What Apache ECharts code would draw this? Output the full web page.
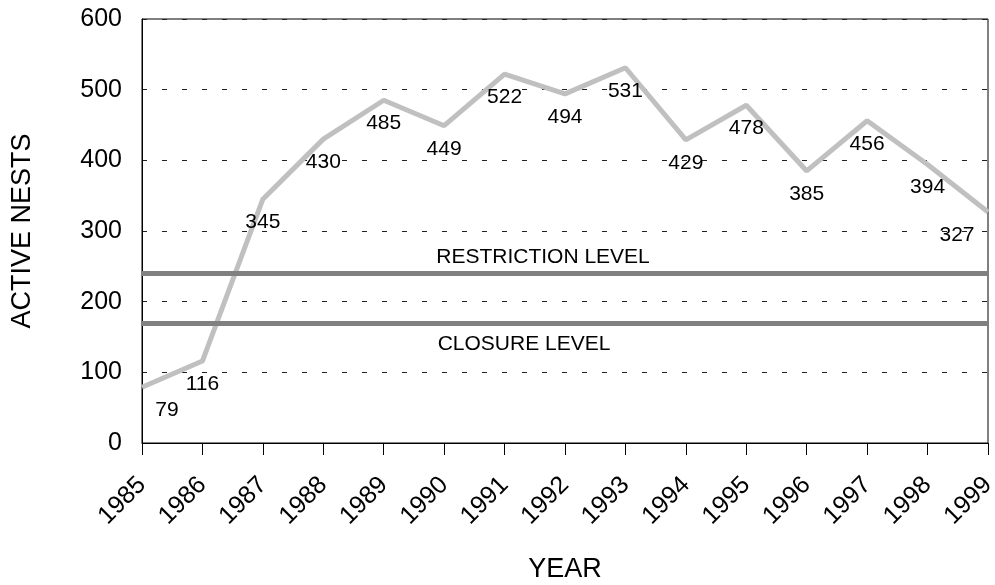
<!DOCTYPE html>
<html><head><meta charset="utf-8">
<script src="https://cdn.jsdelivr.net/npm/echarts@6/dist/echarts.min.js"></script>
<style>html,body{margin:0;padding:0;background:#fff}#c{width:995px;height:585px}</style>
</head><body><div id="c"></div>
<script>
const years = ['1985','1986','1987','1988','1989','1990','1991','1992','1993','1994','1995','1996','1997','1998','1999'];
const nests = [79,116,345,430,485,449,522,494,531,429,478,385,456,394,327];
const labelOffsets = [[25,0],[0,0],[0,0],[0,0],[0,0],[0,0],[0,0],[0,0],[0,0],[0,0],[0,0],[0,0],[0,0],[0,0],[-31,0]];
const restrictionLevel = 240;
const closureLevel = 170;
const yTicks = [0,100,200,300,400,500,600];
const FONT = 'Liberation Sans, Arial, Helvetica, sans-serif';

const chart = echarts.init(document.getElementById('c'), null, {renderer:'canvas'});
chart.setOption({
  animation:false,
  backgroundColor:'#fff',
  grid:{left:142,right:7,top:19,bottom:142,show:true,borderColor:'#000',borderWidth:1,containLabel:false,outerBoundsMode:'none'},
  xAxis:{
    type:'category', data:years, boundaryGap:false,
    name:'YEAR', nameLocation:'middle', nameGap:113,
    nameTextStyle:{fontFamily:FONT,fontSize:27,color:'#000'},
    axisLine:{lineStyle:{color:'#000',width:1}},
    axisTick:{show:true,length:12,alignWithLabel:true,lineStyle:{color:'#000'}},
    axisLabel:{rotate:45,fontFamily:FONT,fontSize:25,color:'#000',margin:38,interval:0},
    splitLine:{show:false}
  },
  yAxis:{
    type:'value', min:0, max:600, interval:100,
    name:'ACTIVE NESTS', nameLocation:'middle', nameGap:106, nameRotate:90,
    nameTextStyle:{fontFamily:FONT,fontSize:27,color:'#000'},
    axisLine:{show:true,lineStyle:{color:'#000',width:1}},
    axisTick:{show:false},
    axisLabel:{fontFamily:FONT,fontSize:25,color:'#000',margin:20,
      formatter:v=>yTicks.includes(v)?String(v):''},
    splitLine:{show:true,lineStyle:{color:'#222',width:1,type:[5,15]}}
  },
  series:[
    {
      type:'line', data:nests.map((v,i)=>({value:v,label:{offset:labelOffsets[i]}})),
      symbol:'circle', symbolSize:1, showSymbol:true,
      itemStyle:{color:'rgba(0,0,0,0)'},
      lineStyle:{color:'#c0c0c0',width:5},
      label:{show:true,position:'bottom',distance:12,fontFamily:FONT,fontSize:21,color:'#000'},
      z:3,
      markLine:{
        silent:true, symbol:'none', animation:false,
        lineStyle:{color:'#808080',width:5,type:'solid'},
        data:[
          {yAxis:restrictionLevel,label:{show:true,formatter:'RESTRICTION LEVEL',position:'insideMiddleTop',distance:[0,6],offset:[-22,0],fontFamily:FONT,fontSize:21,color:'#000'}},
          {yAxis:closureLevel,label:{show:true,formatter:'CLOSURE LEVEL',position:'insideMiddleBottom',distance:[0,11],offset:[-41,0],fontFamily:FONT,fontSize:21,color:'#000'}}
        ]
      }
    }
  ]
});
</script></body></html>
